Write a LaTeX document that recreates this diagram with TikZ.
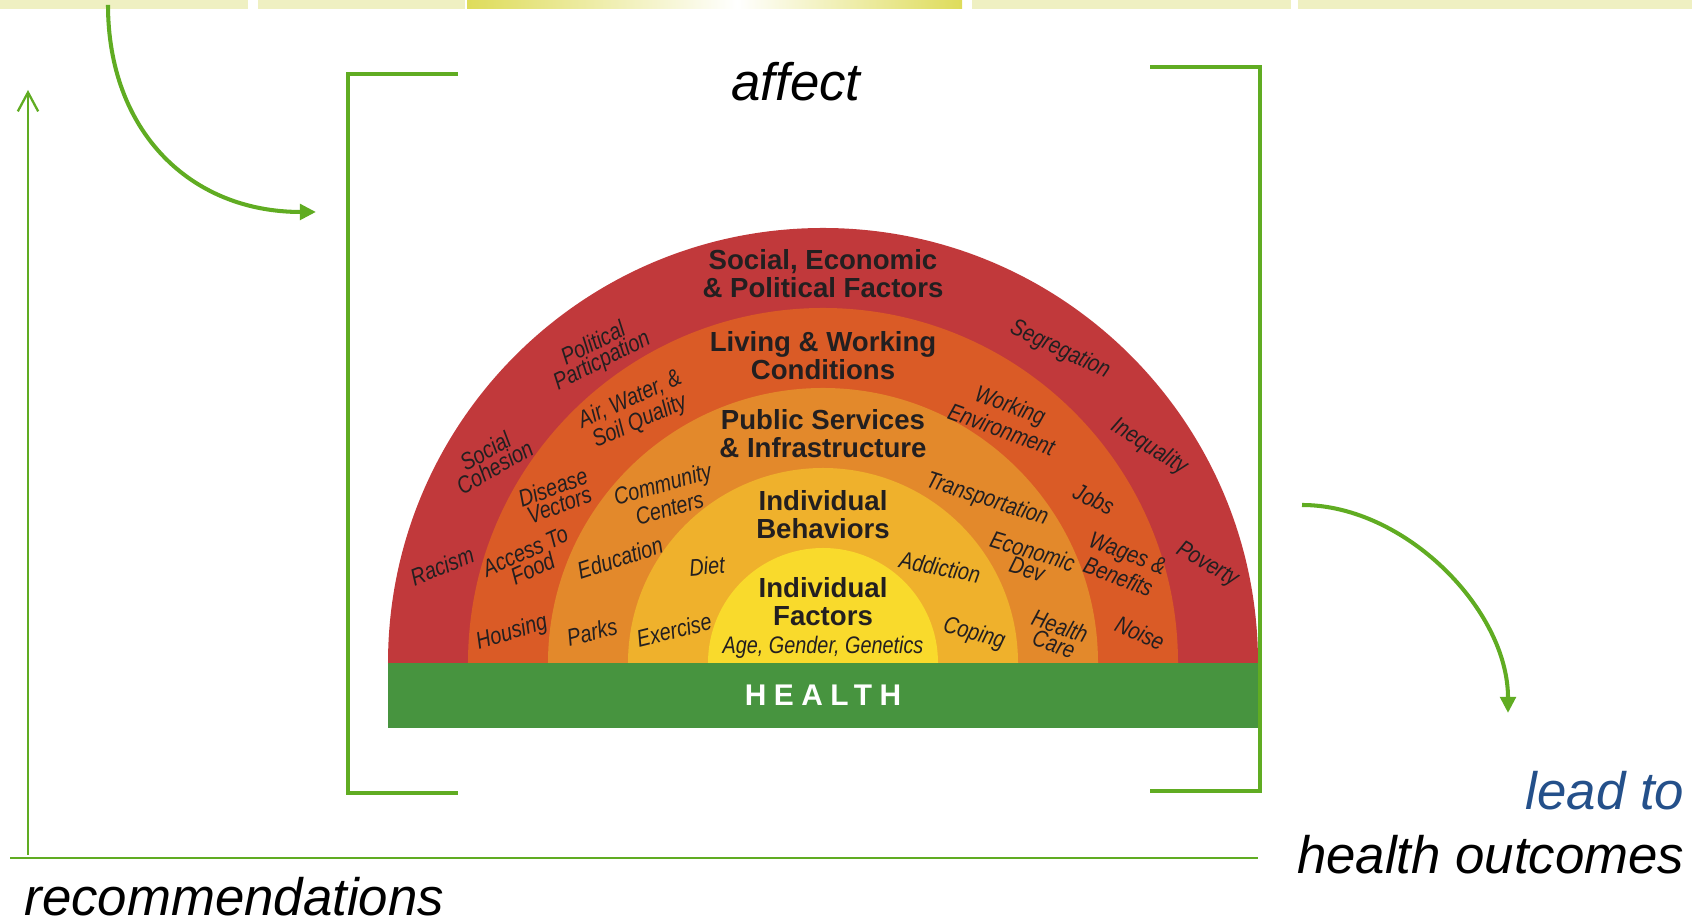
\documentclass[tikz,border=0pt]{standalone}
\usepackage{fontspec}
\setmainfont{Liberation Sans}
\newfontfamily\narrowfont[FakeStretch=0.83]{Liberation Sans}
\usetikzlibrary{arrows.meta}
\definecolor{lineGreen}{RGB}{96,172,34}
\definecolor{barGreen}{RGB}{71,148,63}
\definecolor{ringRed}{RGB}{193,57,59}
\definecolor{ringOrangeA}{RGB}{218,91,38}
\definecolor{ringOrangeB}{RGB}{227,137,43}
\definecolor{ringAmber}{RGB}{239,177,44}
\definecolor{ringYellow}{RGB}{249,218,44}
\definecolor{inkDark}{RGB}{35,31,32}
\definecolor{leadBlue}{RGB}{36,80,138}
\definecolor{stripPale}{RGB}{239,240,194}
\definecolor{stripGold}{RGB}{222,220,90}
\tikzset{
	bigword/.style={font=\itshape\fontsize{15}{18}\selectfont, inner sep=0pt},
	layertitle/.style={font=\bfseries\fontsize{7.85}{8}\selectfont, text=inkDark, align=center, inner sep=0pt},
	arclabel/.style={font=\narrowfont\itshape\fontsize{6.8}{5.3}\selectfont, text=inkDark, align=center, inner sep=0pt},
	bracket/.style={draw=lineGreen, line width=1.15pt},
	bendarrow/.style={draw=lineGreen, line width=1.15pt, -{Triangle[length=4.6pt,width=4.4pt]}},
	thinline/.style={draw=lineGreen, line width=0.65pt},
}

\begin{document}
\begin{tikzpicture}[x=0.01cm, y=0.01cm]
			%%%%% START %%%%%
			\useasboundingbox (0,0) rectangle (1697,922);
			
			\fill[stripPale] (0,913) rectangle (248,922);
			\fill[stripPale] (258,913) rectangle (465,922);
			\shade[left color=stripGold, right color=white] (467,913) rectangle (737,922);
			\shade[left color=white, right color=stripGold] (737,913) rectangle (962,922);
			\fill[stripPale] (972,913) rectangle (1291,922);
			\fill[stripPale] (1298,913) rectangle (1692,922);
			
			\fill[ringRed] (388,259) arc[start angle=180, end angle=0, radius=435] -- cycle;
			\fill[ringOrangeA] (468,259) arc[start angle=180, end angle=0, radius=355] -- cycle;
			\fill[ringOrangeB] (548,259) arc[start angle=180, end angle=0, radius=275] -- cycle;
			\fill[ringAmber] (628,259) arc[start angle=180, end angle=0, radius=195] -- cycle;
			\fill[ringYellow] (708,259) arc[start angle=180, end angle=0, radius=115] -- cycle;
			\fill[barGreen] (388,194) rectangle (1258,259);
			
			\node[layertitle] (sepf) at (823,648) {Social, Economic\\\& Political Factors};
			\node[layertitle] (lwc) at (823,566) {Living \& Working\\Conditions};
			\node[layertitle] (psi) at (823,488) {Public Services\\\& Infrastructure};
			\node[layertitle] (ibeh) at (823,407) {Individual\\Behaviors};
			\node[layertitle] (ifac) at (823,320) {Individual\\Factors};
			\node[arclabel] (agg) at (823,275) {Age, Gender, Genetics};
			\node[font=\bfseries\fontsize{8.5}{10}\selectfont\addfontfeature{LetterSpace=25}, text=white] (health) at (823,227) {HEALTH};
			
			\node[arclabel, rotate=22] (racism) at (442,356) {Racism};
			\node[arclabel, rotate=30] (cohesion) at (490,463) {Social\\Cohesion};
			\node[arclabel, rotate=27] (politics) at (598,569) {Political\\Particpation};
			\node[arclabel, rotate=-25] (segregation) at (1060,572) {Segregation};
			\node[arclabel, rotate=-32] (inequality) at (1149,475) {Inequality};
			\node[arclabel, rotate=-30] (poverty) at (1207,357) {Poverty};
			
			\node[arclabel, rotate=24] (airwater) at (635,511) {Air, Water, \&\\Soil Quality};
			\node[arclabel, rotate=20] (disease) at (556,426) {Disease\\Vectors};
			\node[arclabel, rotate=24] (foodaccess) at (529,362) {Access To\\Food};
			\node[arclabel, rotate=17] (housing) at (512,289) {Housing};
			\node[arclabel, rotate=-20] (workenv) at (1006,505) {Working\\Environment};
			\node[arclabel, rotate=-25] (jobs) at (1094,423) {Jobs};
			\node[arclabel, rotate=-21] (wages) at (1123,357) {Wages \&\\Benefits};
			\node[arclabel, rotate=-24] (noise) at (1140,289) {Noise};
			
			\node[arclabel, rotate=16] (community) at (666,426) {Community\\Centers};
			\node[arclabel, rotate=18] (education) at (620,364) {Education};
			\node[arclabel, rotate=14] (parks) at (592,290) {Parks};
			\node[arclabel, rotate=-18] (transport) at (987,422) {Transportation};
			\node[arclabel, rotate=-17] (econdev) at (1030,362) {Economic\\Dev};
			\node[arclabel, rotate=-19] (healthcare) at (1057,287) {Health\\Care};
			
			\node[arclabel, rotate=5] (diet) at (707,356) {Diet};
			\node[arclabel, rotate=14] (exercise) at (674,292) {Exercise};
			\node[arclabel, rotate=-11] (addiction) at (940,355) {Addiction};
			\node[arclabel, rotate=-16] (coping) at (974,288) {Coping};
			
			\draw[bracket] (458,848) -- (348,848) -- (348,129) -- (458,129);
			\draw[bracket] (1150,855) -- (1260,855) -- (1260,131) -- (1150,131);
			
			\node[bigword, anchor=base] (affect) at (796,821) {affect};
			\node[bigword, anchor=base west] (reco) at (24,6) {recommendations};
			\node[bigword, anchor=base east, text=leadBlue] (leadto) at (1685,112) {lead to};
			\node[bigword, anchor=base east] (outcomes) at (1685,48) {health outcomes};
			
			\coordinate (affectFrom) at (108,917);
			\coordinate (affectTo) at (316,710);
			\draw[bendarrow] (affectFrom) to[out=-90, in=180, looseness=1.1] (affectTo);
			
			\coordinate (leadFrom) at (1302,417);
			\coordinate (leadTo) at (1508,209);
			\draw[bendarrow] (leadFrom) to[out=0, in=90, looseness=0.9] (leadTo);
			
			\coordinate (recoBase) at (28,67);
			\coordinate (recoTip) at (28,832);
			\draw[thinline, -{Straight Barb[length=5.4pt, width=5.8pt]}] (recoBase) -- (recoTip);
			
			\coordinate (baseLeft) at (10,64);
			\coordinate (baseRight) at (1258,64);
			\draw[thinline] (baseLeft) -- (baseRight);
			
			%%%%% END %%%%%
\end{tikzpicture}
\end{document}
